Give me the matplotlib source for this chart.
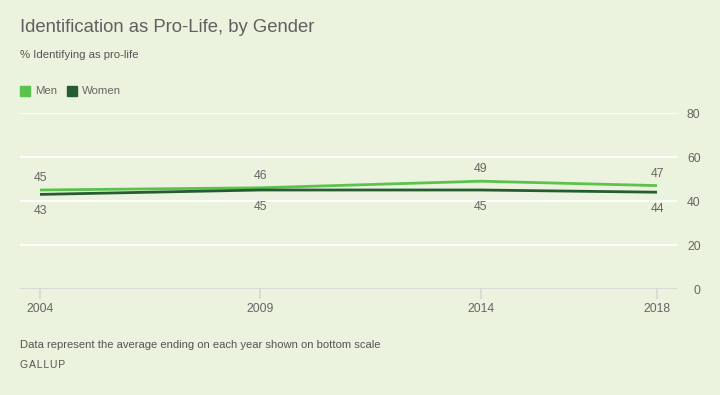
import matplotlib
matplotlib.use("Agg")
import matplotlib.pyplot as plt
from matplotlib.patches import Rectangle

years = [2004, 2009, 2014, 2018]
men = [45, 46, 49, 47]
women = [43, 45, 45, 44]
y_ticks = [0, 20, 40, 60, 80]

BG = "#ebf2dd"
MEN_C = "#5bc24e"
WOMEN_C = "#265c33"
TXT = "#666666"

W, H = 720, 395
fig = plt.figure(figsize=(W / 100, H / 100), dpi=100, facecolor=BG)
plt.rcParams["font.family"] = ["Liberation Sans", "DejaVu Sans"]

# plot area: x 20..677 px, y 113..289 px
ax = fig.add_axes([20 / W, (H - 289) / H, 657 / W, (289 - 113) / H])
ax.set_facecolor(BG)
px_per_year = (657 - 40) / 14
ax.set_xlim(2004 - 20 / px_per_year, 2018 + 20 / px_per_year)
ax.set_ylim(0, 80)

for v in y_ticks[1:]:
    ax.axhline(v, color="white", lw=1.3, zorder=1)
ax.axhline(0, color="#d9d9d9", lw=1.5, zorder=1)

ax.plot(years, men, color=MEN_C, lw=2, zorder=3, solid_capstyle="butt")
ax.plot(years, women, color=WOMEN_C, lw=2, zorder=3, solid_capstyle="butt")

for x, m, w in zip(years, men, women):
    ax.annotate(str(m), (x, m), xytext=(0, 12), textcoords="offset pixels",
                ha="center", va="center", fontsize=8.8, color=TXT)
    ax.annotate(str(w), (x, w), xytext=(0, -17), textcoords="offset pixels",
                ha="center", va="center", fontsize=8.8, color=TXT)

for s in ax.spines.values():
    s.set_visible(False)

ax.set_xticks(years)
ax.set_xticklabels([str(y) for y in years])
ax.tick_params(axis="x", length=7, width=1.3, color="#d9d9d9", labelcolor=TXT,
               labelsize=8.8, pad=3)
ax.yaxis.tick_right()
ax.set_yticks(y_ticks)
ax.set_yticklabels([str(v) for v in y_ticks], ha="right")
ax.tick_params(axis="y", length=0, labelcolor=TXT, labelsize=8.8, pad=17)

# title, subtitle, legend
fig.text(20 / W, 1 - 27 / H, "Identification as Pro-Life, by Gender",
         fontsize=13.3, color="#606060", va="center", ha="left")
fig.text(20 / W, 1 - 55 / H, "% Identifying as pro-life",
         fontsize=8.2, color="#555555", va="center", ha="left")

fig.patches.append(Rectangle((20 / W, 1 - 96 / H), 10 / W, 10 / H,
                             transform=fig.transFigure, color=MEN_C))
fig.text(35 / W, 1 - 91 / H, "Men", fontsize=8.2, color=TXT, va="center")
fig.patches.append(Rectangle((67 / W, 1 - 96 / H), 10 / W, 10 / H,
                             transform=fig.transFigure, color=WOMEN_C))
fig.text(82 / W, 1 - 91 / H, "Women", fontsize=8.2, color=TXT, va="center")

# footer
fig.text(20 / W, 1 - 345 / H,
         "Data represent the average ending on each year shown on bottom scale",
         fontsize=8.1, color="#555555", va="center")
fig.text(20 / W, 1 - 365 / H, "G A L L U P".replace(" ", "\u200a"),
         fontsize=7.5, color="#555555", va="center")

fig.savefig("out.png", dpi=100, facecolor=BG)
